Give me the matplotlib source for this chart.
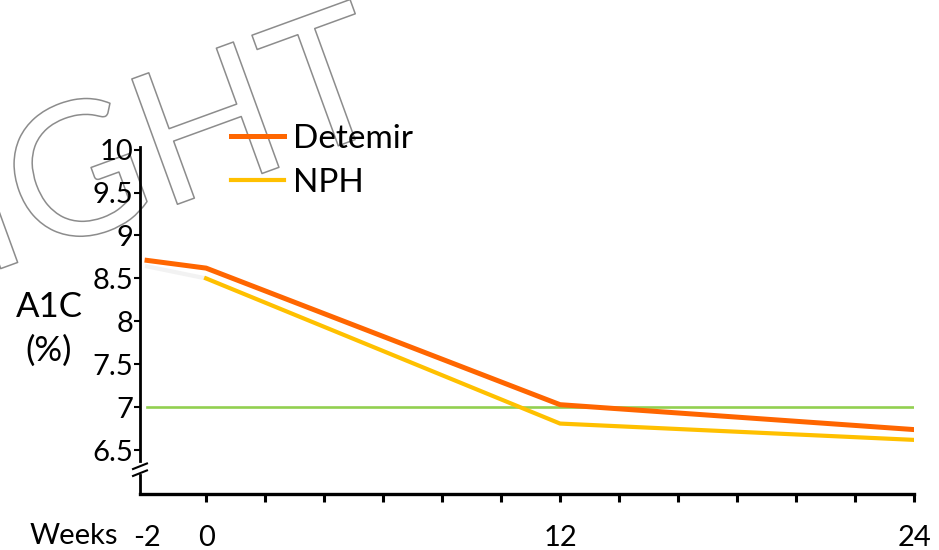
import matplotlib
matplotlib.use("Agg")
import matplotlib.pyplot as plt
import matplotlib.patheffects as pe

# -------------------------------
# data
# -------------------------------
weeks = [-2, 0, 12, 24]
detemir_a1c = [8.71, 8.62, 7.03, 6.74]
nph_weeks = [0, 12, 24]
nph_a1c = [8.50, 6.81, 6.62]
nph_run_in = [8.64, 8.50]          # faint grey segment from -2 to 0
target_a1c = 7.0

y_ticks = [6.5, 7, 7.5, 8, 8.5, 9, 9.5, 10]
y_labels = ["6.5", "7", "7.5", "8", "8.5", "9", "9.5", "10"]
x_ticks = [-2, 0, 2, 4, 6, 8, 10, 12, 14, 16, 18, 20, 22, 24]
x_labels = ["-2", "0", "", "", "", "", "", "12", "", "", "", "", "", "24"]

plt.rcParams["font.family"] = ["Lato", "DejaVu Sans"]

W, H = 939, 550
fig = plt.figure(figsize=(W / 100, H / 100), dpi=100)
ax = fig.add_axes([140 / W, 1 - 494 / H, 774 / W, 347 / H])

# watermark (outlined, behind everything)
fig.text(398 / W, 1 - 124 / H, "COPYRIGHT", fontsize=134, color="white",
         rotation=20, rotation_mode="anchor", ha="right", va="baseline",
         zorder=-5, path_effects=[pe.Stroke(linewidth=1.1, foreground="#8c8c8c")])

ax.set_facecolor("none")
ax.axhline(target_a1c, xmin=(weeks[0] + 2.24) / 26.24, color="#92D050", lw=1.9, zorder=2)
ax.plot(weeks[:2], nph_run_in, color="#F2F2F2", lw=3.0, zorder=2)
ax.plot(nph_weeks, nph_a1c, color="#FFC000", lw=3.0, zorder=3, label="NPH")
ax.plot(weeks, detemir_a1c, color="#FF6600", lw=3.6, zorder=4, label="Detemir")

ax.set_xlim(-2.24, 24)
ax.set_ylim(5.99, 10.03)

# spines
for s in ["top", "right", "left"]:
    ax.spines[s].set_visible(False)
ax.spines["bottom"].set_linewidth(2.4)

# broken y axis
ax.plot([0, 0], [0.095, 1], transform=ax.transAxes, color="black", lw=2.0, clip_on=False)
ax.plot([0, 0], [0, 0.055], transform=ax.transAxes, color="black", lw=2.0, clip_on=False)
ax.plot([-0.009, 0.009], [0.072, 0.088], transform=ax.transAxes, color="black", lw=1.5, clip_on=False)
ax.plot([-0.009, 0.009], [0.052, 0.068], transform=ax.transAxes, color="black", lw=1.5, clip_on=False)

ax.set_yticks(y_ticks)
ax.set_yticklabels(y_labels)
ax.tick_params(axis="y", length=4, width=1.5, pad=1, labelsize=21, direction="out")
ax.set_xticks(x_ticks)
ax.set_xticklabels(x_labels)
ax.tick_params(axis="x", length=6, width=2.2, pad=16, labelsize=21, direction="out")
ax.xaxis.get_major_ticks()[0].tick1line.set_visible(False)

fig.text(49 / W, 1 - 329 / H, "A1C\n(%)", fontsize=25, ha="center", va="center",
         linespacing=1.45)
fig.text(74 / W, 1 - 536 / H, "Weeks", fontsize=21, ha="center", va="center")

handles, labels = ax.get_legend_handles_labels()
ax.legend(handles[::-1], labels[::-1], loc="upper left",
          bbox_to_anchor=(231 / W, 1 - 124 / H), bbox_transform=fig.transFigure,
          frameon=False, fontsize=24, handlelength=1.6, handletextpad=0.25,
          labelspacing=0.42, borderaxespad=0, borderpad=0)

fig.savefig("out.png", dpi=100)
